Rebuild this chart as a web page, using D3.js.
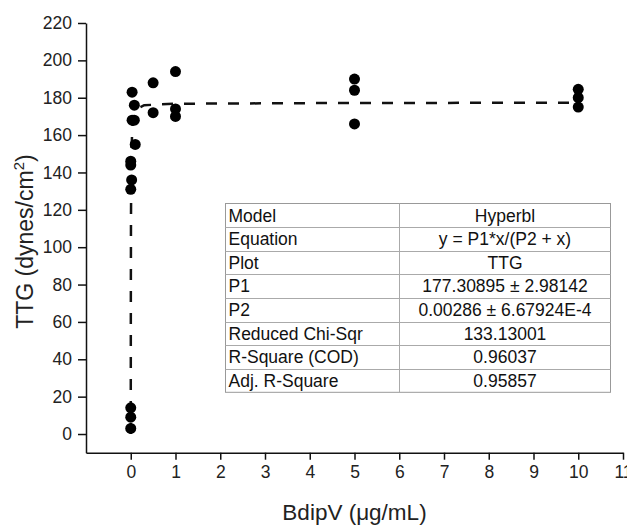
<!DOCTYPE html>
<html>
<head>
<meta charset="utf-8">
<script src="https://cdn.jsdelivr.net/npm/d3@7"></script>
<style>
  body { margin: 0; background: #fff; }
  svg { display: block; font-family: "Liberation Sans", Arial, sans-serif; }
</style>
</head>
<body>
<div id="chart"></div>
<script>
// measured points (BdipV concentration, TTG)
const concX = [0, 0, 0, 0, 0.02, 0, 0, 0.1, 0.03, 0.08, 0.08, 0.03, 0.5, 0.5, 1, 1, 1, 5, 5, 5, 10, 10, 10];
const ttgY  = [3, 9, 14, 131, 136, 144, 146, 155, 168, 168, 176, 183, 188, 172, 194, 174, 170, 190, 184, 166, 184.5, 180, 175];

// fitted curve
const fitX = [0, 0.002, 0.005, 0.01, 0.02, 0.04, 0.07, 0.13, 0.3, 1, 5, 10];
const fitY = [0, 73, 113, 138, 155, 165, 170, 174, 176, 176.8, 177.2, 177.3];

const xTicks = d3.range(0, 12);
const yTicks = d3.range(0, 221, 20);

const tableRows = ["Model", "Equation", "Plot", "P1", "P2", "Reduced Chi-Sqr", "R-Square (COD)", "Adj. R-Square"];
const tableVals = ["Hyperbl", "y = P1*x/(P2 + x)", "TTG", "177.30895 \u00b1 2.98142",
  "0.00286 \u00b1 6.67924E-4", "133.13001", "0.96037", "0.95857"];

const width = 627, height = 525;
const margin = {top: 23, right: 4, bottom: 72, left: 86};

const svg = d3.select("#chart")
  .append("svg")
  .attr("width", width)
  .attr("height", height);

const x = d3.scaleLinear()
  .domain([-1, 11])
  .range([margin.left, width - margin.right]);

const y = d3.scaleLinear()
  .domain([-10, 220])
  .range([height - margin.bottom - 0.3, margin.top]);

// axes
const xAxis = svg.append("g")
  .attr("transform", `translate(0,${y(-10)})`)
  .call(d3.axisBottom(x).tickValues(xTicks).tickSize(7).tickSizeOuter(0).tickPadding(6));

const yAxis = svg.append("g")
  .attr("transform", `translate(${x(-1)},0)`)
  .call(d3.axisLeft(y).tickValues(yTicks).tickSize(8).tickSizeOuter(0).tickPadding(6));

[xAxis, yAxis].forEach(g => {
  g.selectAll("path, line").attr("stroke", "#111").attr("stroke-width", 1.5);
  g.selectAll("text").attr("font-size", 17.5).attr("fill", "#222")
    .attr("font-family", "Liberation Sans, Arial, sans-serif");
});

// axis titles
svg.append("text")
  .attr("x", x(5))
  .attr("y", 520)
  .attr("text-anchor", "middle")
  .attr("font-size", 22.5)
  .attr("fill", "#222")
  .text("BdipV (\u03bcg/mL)");

const yTitle = svg.append("text")
  .attr("transform", `translate(33,${y(103)}) rotate(-90)`)
  .attr("text-anchor", "middle")
  .attr("font-size", 23)
  .attr("fill", "#222");
yTitle.append("tspan").text("TTG (dynes/cm");
yTitle.append("tspan").attr("font-size", 15).attr("dy", -9).text("2");
yTitle.append("tspan").attr("dy", 9).text(")");

// fit line
const line = d3.line()
  .x((d, i) => x(fitX[i]))
  .y((d, i) => y(fitY[i]));

svg.append("path")
  .datum(fitX)
  .attr("d", line)
  .attr("fill", "none")
  .attr("stroke", "#111")
  .attr("stroke-width", 2.5)
  .attr("stroke-dasharray", "11,11");

// points
svg.append("g")
  .selectAll("circle")
  .data(concX)
  .join("circle")
  .attr("cx", d => x(d))
  .attr("cy", (d, i) => y(ttgY[i]))
  .attr("r", 5.5)
  .attr("fill", "#000");

// fit results table
const tLeft = 225.5, tTop = 203.5, tRight = 610.5, tDiv = 399.5, rowH = 23.6;
const table = svg.append("g");

table.append("rect")
  .attr("x", tLeft).attr("y", tTop)
  .attr("width", tRight - tLeft).attr("height", rowH * tableRows.length)
  .attr("fill", "#fff").attr("stroke", "#999").attr("stroke-width", 1);

table.selectAll("line.row")
  .data(tableRows.slice(1))
  .join("line")
  .attr("class", "row")
  .attr("x1", tLeft).attr("x2", tRight)
  .attr("y1", (d, i) => Math.round(tTop + rowH * (i + 1)) + 0.5)
  .attr("y2", (d, i) => Math.round(tTop + rowH * (i + 1)) + 0.5)
  .attr("stroke", "#aaa");

table.append("line")
  .attr("x1", tDiv).attr("x2", tDiv)
  .attr("y1", tTop).attr("y2", tTop + rowH * tableRows.length)
  .attr("stroke", "#aaa");

table.selectAll("text.name")
  .data(tableRows)
  .join("text")
  .attr("class", "name")
  .attr("x", tLeft + 3)
  .attr("y", (d, i) => tTop + rowH * i + 18)
  .attr("font-size", 17.5)
  .attr("fill", "#111")
  .text(d => d);

table.selectAll("text.val")
  .data(tableVals)
  .join("text")
  .attr("class", "val")
  .attr("x", (tDiv + tRight) / 2)
  .attr("y", (d, i) => tTop + rowH * i + 18)
  .attr("text-anchor", "middle")
  .attr("font-size", 17.5)
  .attr("fill", "#111")
  .text(d => d);
</script>
</body>
</html>
